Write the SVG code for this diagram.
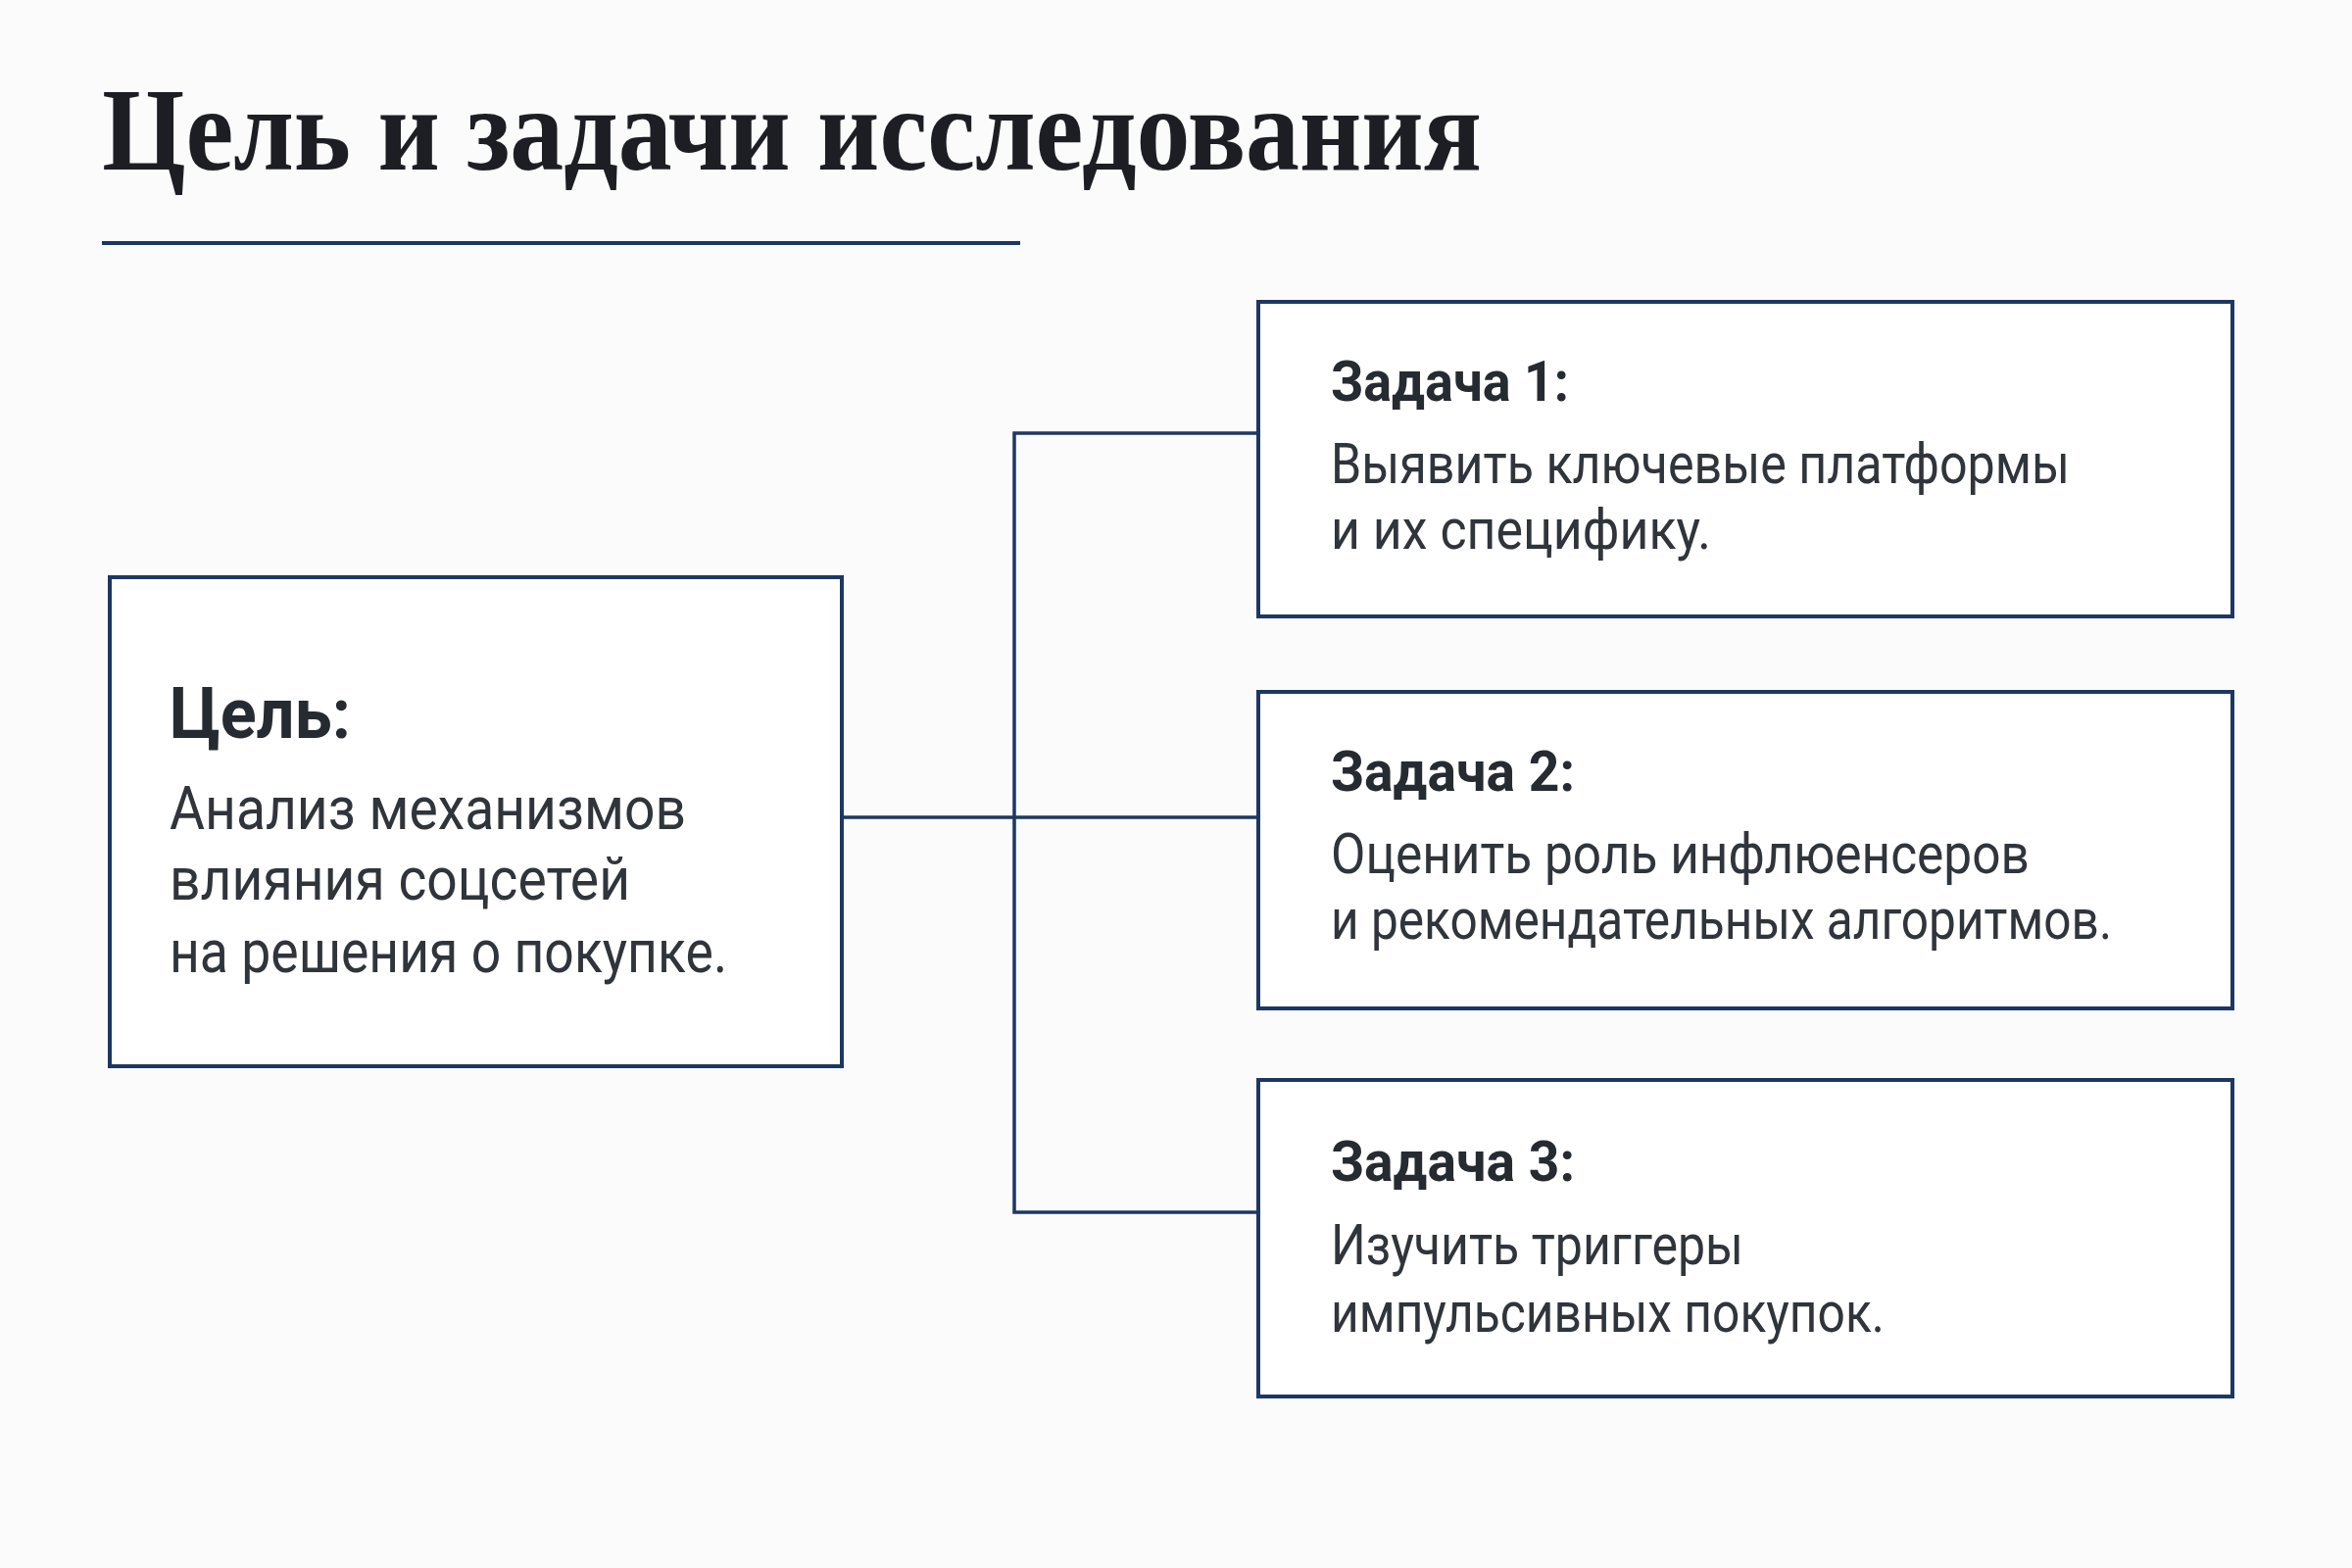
<svg xmlns="http://www.w3.org/2000/svg" width="2400" height="1600" viewBox="0 0 2400 1600">
<style>
.bg{fill:#fbfbfc}
.box{fill:#ffffff;stroke:#1c3862;stroke-width:4}
.conn{fill:none;stroke:#1c3862;stroke-width:3.5}
.title{font-family:"Liberation Serif","Times New Roman",serif;font-weight:bold;font-size:120px;fill:#1c1e23}
.h{font-family:Roboto,"Liberation Sans",Arial,sans-serif;font-weight:bold;fill:#262a31}
.b{font-family:Roboto,"Liberation Sans",Arial,sans-serif;fill:#30343b}
.gh{font-size:72px}
.gb{font-size:61px}
.th{font-size:57px}
.tb{font-size:57px}
</style>
<rect class="bg" x="0" y="0" width="2400" height="1600"/>
<g id="title">
<text class="title" x="104" y="173" textLength="1408" lengthAdjust="spacingAndGlyphs">Цель и задачи исследования</text>
<line x1="104" y1="248" x2="1041" y2="248" stroke="#1c3862" stroke-width="4"/>
</g>
<g id="connectors">
<line class="conn" x1="859" y1="834" x2="1284" y2="834"/>
<polyline class="conn" points="1284,442 1035,442 1035,1237 1284,1237"/>
</g>
<g id="goal">
<rect class="box" x="112" y="589" width="747" height="499"/>
<text class="h gh" x="173" y="753" textLength="185" lengthAdjust="spacingAndGlyphs">Цель:</text>
<text class="b gb" x="173" y="846" textLength="527" lengthAdjust="spacingAndGlyphs">Анализ механизмов</text>
<text class="b gb" x="173" y="918" textLength="470" lengthAdjust="spacingAndGlyphs">влияния соцсетей</text>
<text class="b gb" x="173" y="992" textLength="569" lengthAdjust="spacingAndGlyphs">на решения о покупке.</text>
</g>
<g id="task1">
<rect class="box" x="1284" y="308" width="994" height="321"/>
<text class="h th" x="1358" y="409" textLength="243" lengthAdjust="spacingAndGlyphs">Задача 1:</text>
<text class="b tb" x="1358" y="493" textLength="754" lengthAdjust="spacingAndGlyphs">Выявить ключевые платформы</text>
<text class="b tb" x="1358" y="560" textLength="388" lengthAdjust="spacingAndGlyphs">и их специфику.</text>
</g>
<g id="task2">
<rect class="box" x="1284" y="706" width="994" height="323"/>
<text class="h th" x="1358" y="807" textLength="249" lengthAdjust="spacingAndGlyphs">Задача 2:</text>
<text class="b tb" x="1358" y="891" textLength="713" lengthAdjust="spacingAndGlyphs">Оценить роль инфлюенсеров</text>
<text class="b tb" x="1358" y="958" textLength="797" lengthAdjust="spacingAndGlyphs">и рекомендательных алгоритмов.</text>
</g>
<g id="task3">
<rect class="box" x="1284" y="1102" width="994" height="323"/>
<text class="h th" x="1358" y="1205" textLength="249" lengthAdjust="spacingAndGlyphs">Задача 3:</text>
<text class="b tb" x="1358" y="1290" textLength="421" lengthAdjust="spacingAndGlyphs">Изучить триггеры</text>
<text class="b tb" x="1358" y="1359" textLength="565" lengthAdjust="spacingAndGlyphs">импульсивных покупок.</text>
</g>
</svg>
